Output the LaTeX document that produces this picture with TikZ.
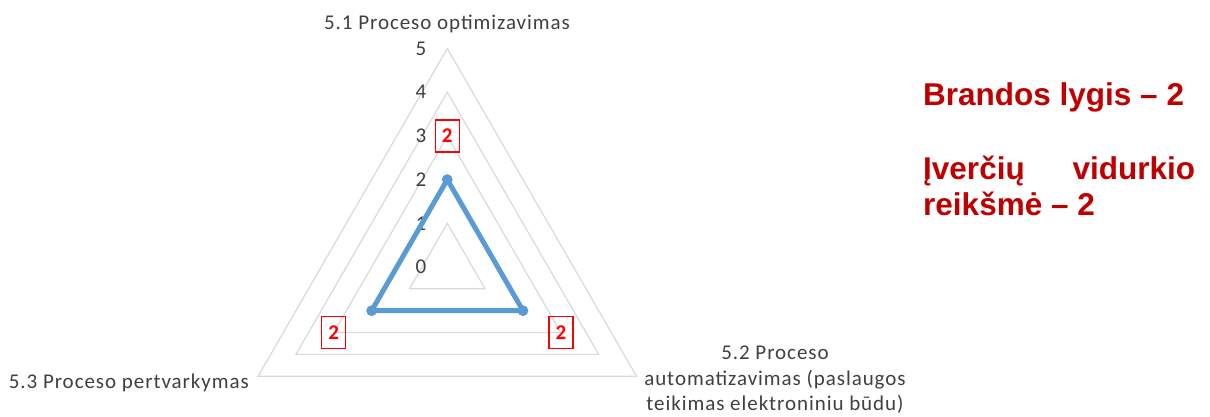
\documentclass[tikz,border=0pt]{standalone}
\usepackage{fontspec}
\newfontfamily\axisfont[LetterSpace=4.5]{Carlito}
\newfontfamily\notefont{Liberation Sans}
\definecolor{gridgray}{HTML}{D9D9D9}
\definecolor{axgray}{HTML}{404040}
\definecolor{sblue}{HTML}{5B9BD5}
\definecolor{lred}{HTML}{FF0000}
\definecolor{dred}{HTML}{C00000}
\usetikzlibrary{calc}

\begin{document}
\begin{tikzpicture}[x=1pt,y=1pt,
	axlabel/.style={font=\axisfont\fontsize{21}{25.5}\selectfont, text=axgray, inner sep=0pt},
	vallabel/.style={draw=lred, line width=1.5pt, text=lred, font=\axisfont\bfseries\fontsize{21}{24}\selectfont, minimum width=24pt, minimum height=32pt, inner sep=0pt},
	note/.style={font=\notefont\bfseries\fontsize{31.5}{36}\selectfont, text=dred, inner sep=0pt}]
	\useasboundingbox (0,0) rectangle (1210,417);
	\coordinate (c) at (447.3,150);
	%grid
	\foreach \k in {1,...,5}
	\draw[gridgray, line width=1.2pt] ($(c)+(90:43.7*\k)$) -- ($(c)+(210:43.7*\k)$) -- ($(c)+(330:43.7*\k)$) -- cycle;
	\foreach \k in {0,...,5}
	\node[axlabel] (l\k) at ($(c)+(-26.4,43.7*\k)$) {\k};
	%series
	\foreach \a/\n in {90/a, 330/b, 210/d}
	\coordinate (p\n) at ($(c)+(\a:87.4)$);
	\draw[sblue, line width=5pt, line join=round] (pa) -- (pb) -- (pd) -- cycle;
	\foreach \n in {a, b, d}
	\fill[sblue] (p\n) circle (5.4);
	\foreach \a/\n in {90/a, 330/b, 210/d}
	\node[vallabel] (v\n) at ($(c)+(\a:131.2)$) {2};
	%axis names
	\node[axlabel] (t1) at (447,393) {5.1 Proceso optimizavimas};
	\node[axlabel, anchor=east] (t3) at (249,34) {5.3 Proceso pertvarkymas};
	\node[axlabel, align=center] (t2) at (775,37) {5.2 Proceso\\automatizavimas (paslaugos\\teikimas elektroniniu būdu)};
	%notes
	\node[note, anchor=base west] (brand) at (923,311.3) {Brandos lygis – 2};
	\node[note, anchor=base west, text width=272pt, align=justify] (mean) at (923,237) {\hyphenpenalty=10000 Įverčių vidurkio reikšmė – 2};
\end{tikzpicture}
\end{document}
